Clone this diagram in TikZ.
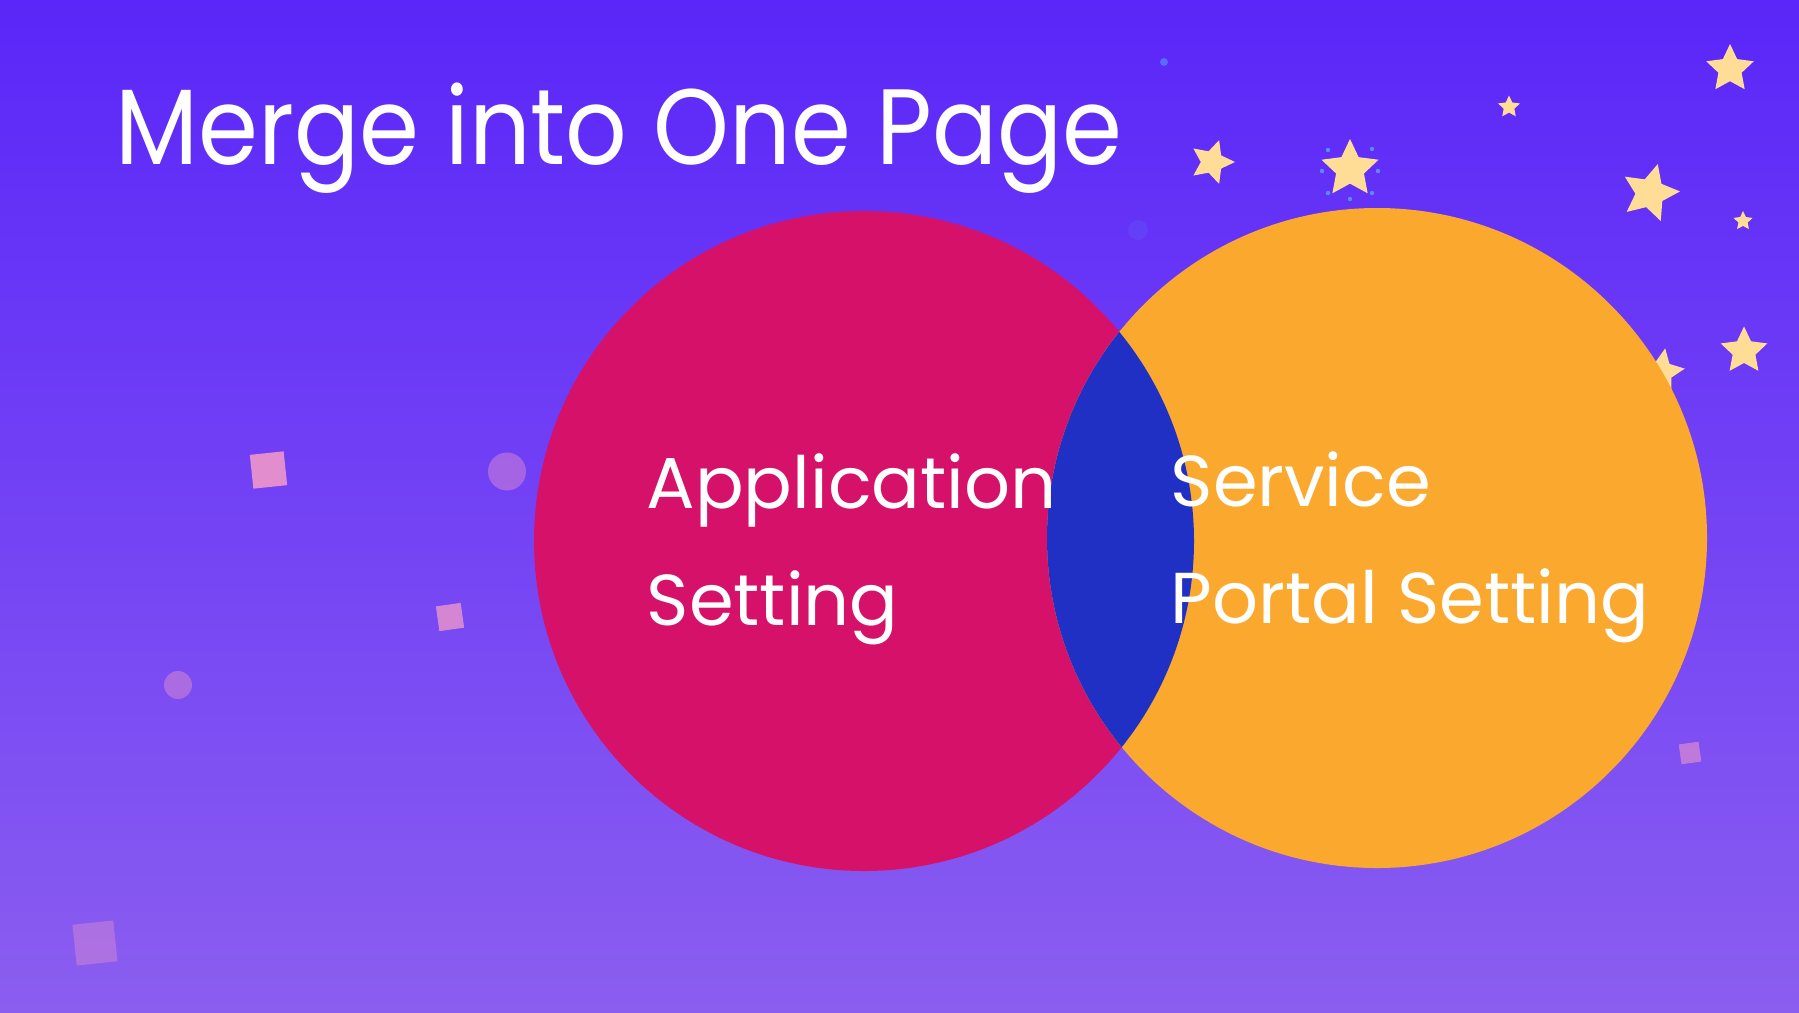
\documentclass[tikz,border=0pt]{standalone}
\usepackage{fontspec}
\setmainfont{Poppins}
\newfontfamily\titlefont{Poppins}[FakeStretch=0.9]
\usetikzlibrary{shapes.geometric, positioning}
\definecolor{BgTop}{RGB}{90, 38, 249}
\definecolor{BgBottom}{RGB}{139, 94, 240}
\definecolor{AppRed}{RGB}{213, 17, 106}
\definecolor{PortalOrange}{RGB}{251, 169, 46}
\definecolor{MergeBlue}{RGB}{32, 48, 197}
\definecolor{StarYellow}{RGB}{255, 221, 150}
\definecolor{ConfettiPink}{RGB}{245, 155, 200}
\definecolor{SparkBlue}{RGB}{92, 140, 248}

\tikzset{
  starnode/.style={star, star points=5, star point ratio=2.05, fill=StarYellow, inner sep=0pt},
  confetti/.style={rectangle, fill=ConfettiPink, inner sep=0pt},
  bubble/.style={circle, fill=ConfettiPink, fill opacity=0.4, inner sep=0pt},
  label/.style={text=white, inner sep=0pt, anchor=base west}
}

\begin{document}
\begin{tikzpicture}
    \shade[top color=BgTop, bottom color=BgBottom] (0,0) rectangle (17.99,10.12);
    \useasboundingbox (0,0) rectangle (17.99,10.12);

    \node[confetti, minimum size=0.34cm, rotate=6, fill opacity=0.85] (sq1) at (2.685,5.42) {};
    \node[confetti, minimum size=0.25cm, rotate=8, fill opacity=0.75] (sq2) at (4.50,3.95) {};
    \node[confetti, minimum size=0.41cm, rotate=6, fill opacity=0.35] (sq3) at (0.95,0.69) {};
    \node[confetti, minimum size=0.20cm, rotate=8, fill opacity=0.55] (sq4) at (16.90,2.59) {};
    \node[bubble, minimum size=0.38cm] (dot1) at (5.07,5.405) {};
    \node[bubble, minimum size=0.28cm] (dot2) at (1.78,3.27) {};
    \node[circle, fill=SparkBlue, fill opacity=0.15, inner sep=0pt, minimum size=0.20cm] (dot3) at (11.38,7.82) {};

    \node[starnode, minimum size=0.50cm] (star1) at (17.30,9.43) {};
    \node[starnode, minimum size=0.23cm] (star2) at (15.09,9.05) {};
    \node[starnode, minimum size=0.46cm, rotate=-18] (star3) at (12.12,8.50) {};
    \node[starnode, minimum size=0.60cm] (star4) at (13.50,8.43) {};
    \node[starnode, minimum size=0.60cm, rotate=-15] (star5) at (16.50,8.19) {};
    \node[starnode, minimum size=0.20cm] (star6) at (17.43,7.91) {};
    \node[starnode, minimum size=0.49cm] (star7) at (17.44,6.61) {};
    \node[starnode, minimum size=0.48cm, rotate=-10] (star8) at (16.61,6.40) {};
    \foreach \x/\y in {13.28/8.62, 13.72/8.63, 13.22/8.41, 13.78/8.41, 13.28/8.19, 13.72/8.19, 13.50/8.13}
      \fill[SparkBlue] (\x,\y) circle (0.022);
    \fill[SparkBlue!70!BgTop] (11.64,9.50) circle (0.04);

    \fill[AppRed] (8.64,4.71) circle (3.30);
    \fill[PortalOrange] (13.77,4.74) circle (3.30);
    \begin{scope}
      \clip (8.64,4.71) circle (3.30);
      \fill[MergeBlue] (13.77,4.74) circle (3.30);
    \end{scope}

    \node[label, font=\titlefont\fontsize{30.5}{36}\selectfont] (title) at (1.15,8.48) {Merge into One Page};
    \node[label, font=\fontsize{20.5}{33.3}\selectfont] (app1) at (6.46,5.04) {Application};
    \node[label, font=\fontsize{20.5}{33.3}\selectfont] (app2) at (6.46,3.87) {Setting};
    \node[label, font=\fontsize{20.5}{33.3}\selectfont] (svc1) at (11.70,5.06) {Service};
    \node[label, font=\fontsize{20.5}{33.3}\selectfont] (svc2) at (11.70,3.89) {Portal Setting};
\end{tikzpicture}
\end{document}
